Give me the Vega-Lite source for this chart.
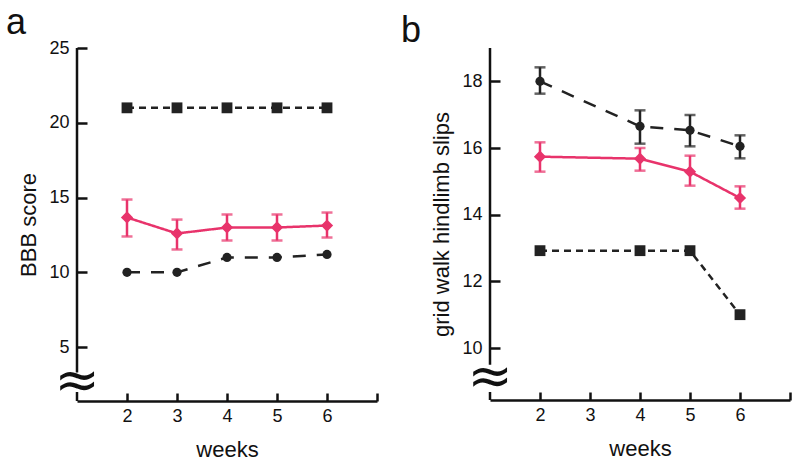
{
  "$schema": "https://vega.github.io/schema/vega-lite/v6.json",
  "background": "white",
  "padding": {"left": 5, "top": 5, "right": 5, "bottom": 5},
  "config": {
    "view": {"stroke": null},
    "font": "Liberation Sans",
    "axis": {"labelFont": "Liberation Sans", "titleFont": "Liberation Sans", "labelColor": "#111", "titleColor": "#111", "titleFontWeight": "normal", "grid": false}
  },
  "datasets": {
    "a": [
      {"week": 2, "grp": "sq", "value": 21},
      {"week": 3, "grp": "sq", "value": 21},
      {"week": 4, "grp": "sq", "value": 21},
      {"week": 5, "grp": "sq", "value": 21},
      {"week": 6, "grp": "sq", "value": 21},
      {"week": 2, "grp": "ci", "value": 10},
      {"week": 3, "grp": "ci", "value": 10},
      {"week": 4, "grp": "ci", "value": 11},
      {"week": 5, "grp": "ci", "value": 11},
      {"week": 6, "grp": "ci", "value": 11.2},
      {"week": 2, "grp": "pink", "value": 13.67, "lo": 12.4, "hi": 14.87},
      {"week": 3, "grp": "pink", "value": 12.6, "lo": 11.53, "hi": 13.53},
      {"week": 4, "grp": "pink", "value": 13.0, "lo": 12.13, "hi": 13.87},
      {"week": 5, "grp": "pink", "value": 13.0, "lo": 12.13, "hi": 13.87},
      {"week": 6, "grp": "pink", "value": 13.13, "lo": 12.33, "hi": 14.0}
    ],
    "b": [
      {"week": 2, "grp": "sq", "value": 12.92},
      {"week": 4, "grp": "sq", "value": 12.92},
      {"week": 5, "grp": "sq", "value": 12.92},
      {"week": 6, "grp": "sq", "value": 11.0},
      {"week": 2, "grp": "ci", "value": 18.0, "lo": 17.63, "hi": 18.42},
      {"week": 4, "grp": "ci", "value": 16.65, "lo": 16.13, "hi": 17.13},
      {"week": 5, "grp": "ci", "value": 16.53, "lo": 16.05, "hi": 16.99},
      {"week": 6, "grp": "ci", "value": 16.05, "lo": 15.69, "hi": 16.38},
      {"week": 2, "grp": "pink", "value": 15.74, "lo": 15.29, "hi": 16.17},
      {"week": 4, "grp": "pink", "value": 15.68, "lo": 15.32, "hi": 16.0},
      {"week": 5, "grp": "pink", "value": 15.29, "lo": 14.87, "hi": 15.77},
      {"week": 6, "grp": "pink", "value": 14.5, "lo": 14.18, "hi": 14.85}
    ]
  },
  "bounds": "flush",
  "spacing": 113,
  "hconcat": [
    {
      "width": 300,
      "height": 353,
      "title": {"text": "a", "anchor": "start", "fontSize": 36, "fontWeight": "normal", "font": "Liberation Sans", "dx": -12, "offset": -3, "color": "#111"},
      "data": {"name": "a"},
      "layer": [
        {
          "data": {"values": [{"y": 25, "y2": 3.3}, {"y": 2.0, "y2": 1.4}]},
          "mark": {"type": "rule", "strokeWidth": 2.5, "color": "#111"},
          "encoding": {
            "x": {"datum": 1, "type": "quantitative", "scale": {"domain": [1, 7], "nice": false, "zero": false},
              "axis": {"title": "weeks", "values": [2, 3, 4, 5, 6, 7], "labelExpr": "datum.value == 7 ? '' : datum.label", "domainColor": "#111", "domainWidth": 2.5, "tickColor": "#111", "tickWidth": 2.5, "tickSize": -8, "labelFontSize": 18, "titleFontSize": 22, "labelPadding": 14, "titlePadding": 14}},
            "y": {"field": "y", "type": "quantitative", "title": "BBB score", "scale": {"domain": [1.4, 25], "nice": false, "zero": false},
              "axis": {"values": [5, 10, 15, 20, 25], "domain": false, "tickColor": "#111", "tickWidth": 2.5, "tickSize": -10, "labelFontSize": 18, "titleFontSize": 22, "labelPadding": 18, "titlePadding": 8}},
            "y2": {"field": "y2"}
          }
        },
        {
          "data": {"values": [{"x": 1, "y": 2.7, "t": "≈"}]},
          "mark": {"type": "text", "fontSize": 54, "font": "DejaVu Sans", "color": "#111"},
          "encoding": {
            "x": {"field": "x", "type": "quantitative"},
            "y": {"field": "y", "type": "quantitative", "title": "BBB score"},
            "text": {"field": "t"}
          }
        },
        {
          "mark": {"type": "line", "strokeWidth": 2.5},
          "encoding": {
            "x": {"field": "week", "type": "quantitative"},
            "y": {"field": "value", "type": "quantitative", "title": "BBB score"},
            "color": {"field": "grp", "type": "nominal", "scale": {"domain": ["pink", "sq", "ci"], "range": ["#e8336b", "#222222", "#222222"]}, "legend": null},
            "strokeDash": {"field": "grp", "type": "nominal", "scale": {"domain": ["pink", "sq", "ci"], "range": [[1, 0], [7, 5], [13, 11]]}, "legend": null}
          }
        },
        {
          "transform": [{"filter": "isValid(datum.lo)"}],
          "mark": {"type": "errorbar", "ticks": {"size": 11, "thickness": 2.5}, "thickness": 2.5},
          "encoding": {
            "x": {"field": "week", "type": "quantitative"},
            "y": {"field": "lo", "type": "quantitative", "title": "BBB score"},
            "y2": {"field": "hi"},
            "color": {"field": "grp", "type": "nominal", "legend": null}
          }
        },
        {
          "mark": {"type": "point", "filled": true, "opacity": 1},
          "encoding": {
            "x": {"field": "week", "type": "quantitative"},
            "y": {"field": "value", "type": "quantitative", "title": "BBB score"},
            "color": {"field": "grp", "type": "nominal", "legend": null},
            "shape": {"field": "grp", "type": "nominal", "scale": {"domain": ["pink", "sq", "ci"], "range": ["diamond", "square", "circle"]}, "legend": null},
            "size": {"field": "grp", "type": "nominal", "scale": {"domain": ["pink", "sq", "ci"], "range": [150, 85, 85]}, "legend": null}
          }
        }
      ]
    },
    {
      "width": 300,
      "height": 352,
      "title": {"text": "b", "anchor": "start", "fontSize": 36, "fontWeight": "normal", "font": "Liberation Sans", "dx": -30, "offset": -3, "color": "#111"},
      "data": {"name": "b"},
      "layer": [
        {
          "data": {"values": [{"y": 19, "y2": 9.5}, {"y": 8.68, "y2": 8.44}]},
          "mark": {"type": "rule", "strokeWidth": 2.5, "color": "#111"},
          "encoding": {
            "x": {"datum": 1, "type": "quantitative", "scale": {"domain": [1, 7], "nice": false, "zero": false},
              "axis": {"title": "weeks", "values": [2, 3, 4, 5, 6, 7], "labelExpr": "datum.value == 7 ? '' : datum.label", "domainColor": "#111", "domainWidth": 2.5, "tickColor": "#111", "tickWidth": 2.5, "tickSize": -8, "labelFontSize": 18, "titleFontSize": 22, "labelPadding": 14, "titlePadding": 14}},
            "y": {"field": "y", "type": "quantitative", "title": "grid walk hindlimb slips", "scale": {"domain": [8.44, 19], "nice": false, "zero": false},
              "axis": {"values": [10, 11, 12, 13, 14, 15, 16, 17, 18, 19], "labelExpr": "datum.value % 2 == 0 ? datum.label : ''", "domain": false, "tickColor": "#111", "tickWidth": 2.5, "tickSize": -10, "labelFontSize": 18, "titleFontSize": 22, "labelPadding": 18, "titlePadding": 8}},
            "y2": {"field": "y2"}
          }
        },
        {
          "data": {"values": [{"x": 1, "y": 9.1, "t": "≈"}]},
          "mark": {"type": "text", "fontSize": 54, "font": "DejaVu Sans", "color": "#111"},
          "encoding": {
            "x": {"field": "x", "type": "quantitative"},
            "y": {"field": "y", "type": "quantitative", "title": "grid walk hindlimb slips"},
            "text": {"field": "t"}
          }
        },
        {
          "mark": {"type": "line", "strokeWidth": 2.5},
          "encoding": {
            "x": {"field": "week", "type": "quantitative"},
            "y": {"field": "value", "type": "quantitative", "title": "grid walk hindlimb slips"},
            "color": {"field": "grp", "type": "nominal", "scale": {"domain": ["pink", "sq", "ci"], "range": ["#e8336b", "#222222", "#222222"]}, "legend": null},
            "strokeDash": {"field": "grp", "type": "nominal", "scale": {"domain": ["pink", "sq", "ci"], "range": [[1, 0], [7, 5], [15, 15]]}, "legend": null}
          }
        },
        {
          "transform": [{"filter": "isValid(datum.lo)"}],
          "mark": {"type": "errorbar", "ticks": {"size": 11, "thickness": 2.5}, "thickness": 2.5},
          "encoding": {
            "x": {"field": "week", "type": "quantitative"},
            "y": {"field": "lo", "type": "quantitative", "title": "grid walk hindlimb slips"},
            "y2": {"field": "hi"},
            "color": {"field": "grp", "type": "nominal", "legend": null}
          }
        },
        {
          "mark": {"type": "point", "filled": true, "opacity": 1},
          "encoding": {
            "x": {"field": "week", "type": "quantitative"},
            "y": {"field": "value", "type": "quantitative", "title": "grid walk hindlimb slips"},
            "color": {"field": "grp", "type": "nominal", "legend": null},
            "shape": {"field": "grp", "type": "nominal", "scale": {"domain": ["pink", "sq", "ci"], "range": ["diamond", "square", "circle"]}, "legend": null},
            "size": {"field": "grp", "type": "nominal", "scale": {"domain": ["pink", "sq", "ci"], "range": [150, 85, 85]}, "legend": null}
          }
        }
      ]
    }
  ],
  "resolve": {"scale": {"x": "independent", "y": "independent"}}
}
